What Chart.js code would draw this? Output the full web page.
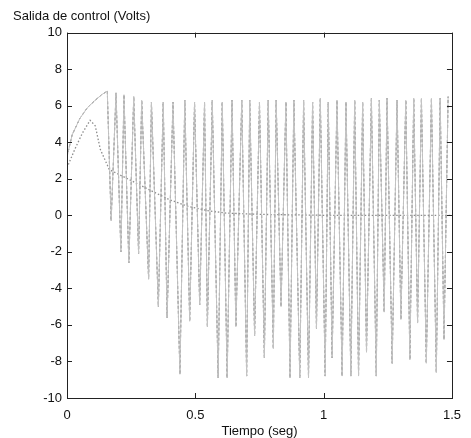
<!DOCTYPE html>
<html>
<head>
<meta charset="utf-8">
<script src="https://cdn.jsdelivr.net/npm/chart.js@4.4.0/dist/chart.umd.min.js"></script>
<style>
  html, body { margin: 0; padding: 0; background: #fff; }
  #wrap { width: 471px; height: 438px; }
</style>
</head>
<body>
<div id="wrap"><canvas id="plot" width="471" height="438"></canvas></div>
<script>
// control signal: start-up rise, then chattering (alternating peaks / dips)
const riseTime = [0, 0.02, 0.05, 0.08, 0.11, 0.135];
const riseValue = [3.2, 4.4, 5.3, 5.9, 6.3, 6.6];

const peakTime = [0.157, 0.191, 0.222, 0.260, 0.291, 0.329, 0.375, 0.413, 0.459, 0.497,
  0.536, 0.566, 0.605, 0.643, 0.681, 0.712, 0.750, 0.784, 0.815, 0.853,
  0.884, 0.922, 0.957, 0.987, 1.018, 1.052, 1.087, 1.121, 1.152, 1.186,
  1.217, 1.247, 1.286, 1.320, 1.351, 1.381, 1.420, 1.454, 1.485];
const peakValue = [6.8, 6.7, 6.6, 6.5, 6.3, 6.2, 6.2, 6.2, 6.3, 6.2,
  6.2, 6.3, 6.2, 6.3, 6.3, 6.3, 6.2, 6.3, 6.3, 6.2,
  6.3, 6.3, 6.2, 6.4, 6.2, 6.3, 6.2, 6.3, 6.2, 6.4,
  6.3, 6.4, 6.3, 6.3, 6.4, 6.4, 6.4, 6.4, 6.5];

const dipTime = [0.172, 0.210, 0.241, 0.279, 0.318, 0.356, 0.390, 0.440, 0.478, 0.517,
  0.547, 0.589, 0.624, 0.658, 0.700, 0.731, 0.769, 0.804, 0.834, 0.869,
  0.907, 0.941, 0.972, 1.006, 1.033, 1.072, 1.106, 1.136, 1.167, 1.205,
  1.236, 1.267, 1.301, 1.336, 1.366, 1.400, 1.439, 1.469];
const dipValue = [-0.3, -2.0, -2.6, -2.1, -3.5, -5.0, -5.6, -8.7, -5.8, -4.9,
  -6.1, -8.9, -8.9, -6.1, -8.8, -6.6, -7.8, -7.3, -5.0, -8.9,
  -8.9, -8.9, -6.2, -8.8, -7.8, -8.8, -8.8, -8.8, -7.5, -8.8,
  -5.3, -8.1, -5.7, -7.9, -5.9, -8.1, -8.6, -6.8];

// smooth signal (dotted)
const smoothTime = [0, 0.03, 0.06, 0.09, 0.11, 0.13, 0.165, 0.25, 0.32, 0.40, 0.47, 0.55, 0.62, 0.75, 1.0, 1.25, 1.5];
const smoothValue = [2.6, 3.6, 4.5, 5.2, 4.9, 3.6, 2.5, 1.9, 1.4, 0.85, 0.5, 0.25, 0.12, 0.05, 0, 0, 0];

const xTicks = [0, 0.5, 1, 1.5];
const yTicks = [-10, -8, -6, -4, -2, 0, 2, 4, 6, 8, 10];

const FONT = "'Liberation Sans', Arial, sans-serif";

document.addEventListener("DOMContentLoaded", drawPlot);

function chatterPoints() {
  let pts = [];
  for (let i = 0; i < riseTime.length; i++) pts.push({ x: riseTime[i], y: riseValue[i] });
  for (let i = 0; i < peakTime.length; i++) {
    pts.push({ x: peakTime[i], y: peakValue[i] });
    if (i < dipTime.length) pts.push({ x: dipTime[i], y: dipValue[i] });
  }
  return pts;
}

function smoothPoints() {
  return smoothTime.map((t, i) => ({ x: t, y: smoothValue[i] }));
}

// matlab style box with inward ticks on all four sides
const boxPlugin = {
  id: "box",
  afterDatasetsDraw(chart) {
    const ctx = chart.ctx;
    const a = chart.chartArea;
    const xs = chart.scales.x, ys = chart.scales.y;
    const len = 5;
    ctx.save();
    ctx.strokeStyle = "#222";
    ctx.lineWidth = 1;
    ctx.strokeRect(Math.round(a.left) + 0.5, Math.round(a.top) + 0.5,
      Math.round(a.right - a.left), Math.round(a.bottom - a.top));
    ctx.beginPath();
    xTicks.forEach(v => {
      const px = Math.round(xs.getPixelForValue(v)) + 0.5;
      ctx.moveTo(px, a.bottom); ctx.lineTo(px, a.bottom - len);
      ctx.moveTo(px, a.top); ctx.lineTo(px, a.top + len);
    });
    yTicks.forEach(v => {
      const py = Math.round(ys.getPixelForValue(v)) + 0.5;
      ctx.moveTo(a.left, py); ctx.lineTo(a.left + len, py);
      ctx.moveTo(a.right, py); ctx.lineTo(a.right - len, py);
    });
    ctx.stroke();
    ctx.restore();
  }
};

function drawPlot() {
  const ctx = document.getElementById("plot").getContext("2d");
  const pts = chatterPoints();
  new Chart(ctx, {
    type: "line",
    data: {
      datasets: [
        {
          // light solid trace under the dashed one, gives the grey stripes
          label: "u base",
          data: pts,
          borderColor: "#c4c4c4",
          borderWidth: 1,
          pointRadius: 0,
          tension: 0
        },
        {
          label: "u",
          data: pts,
          borderColor: "#555",
          borderWidth: 1,
          borderDash: [3, 2],
          pointRadius: 0,
          tension: 0
        },
        {
          label: "u suave",
          data: smoothPoints(),
          borderColor: "#8c8c8c",
          borderWidth: 1.3,
          borderDash: [1.5, 2],
          pointRadius: 0,
          tension: 0
        }
      ]
    },
    options: {
      responsive: false,
      animation: false,
      layout: { padding: { left: 13, right: 12, top: 0, bottom: 0 } },
      plugins: {
        legend: { display: false },
        tooltip: { enabled: false },
        title: {
          display: true,
          text: "Salida de control (Volts)",
          align: "start",
          color: "#111",
          font: { family: FONT, size: 13, weight: "normal" },
          padding: { top: 9, bottom: 8 }
        }
      },
      scales: {
        x: {
          type: "linear",
          min: 0,
          max: 1.5,
          afterBuildTicks: s => { s.ticks = xTicks.map(v => ({ value: v })); },
          afterFit: s => { s.height = 40; },
          grid: { display: false, drawTicks: false },
          border: { display: false },
          ticks: {
            color: "#111",
            padding: 10,
            maxRotation: 0,
            font: { family: FONT, size: 13 },
            callback: v => String(v)
          },
          title: {
            display: true,
            text: "Tiempo (seg)",
            color: "#111",
            font: { family: FONT, size: 13 },
            padding: { top: 0, bottom: -1 }
          }
        },
        y: {
          min: -10,
          max: 10,
          afterBuildTicks: s => { s.ticks = yTicks.map(v => ({ value: v })); },
          afterFit: s => { s.width = 54; },
          grid: { display: false, drawTicks: false },
          border: { display: false },
          ticks: {
            color: "#111",
            padding: 5,
            font: { family: FONT, size: 13 }
          }
        }
      }
    },
    plugins: [boxPlugin]
  });
}
</script>
</body>
</html>
